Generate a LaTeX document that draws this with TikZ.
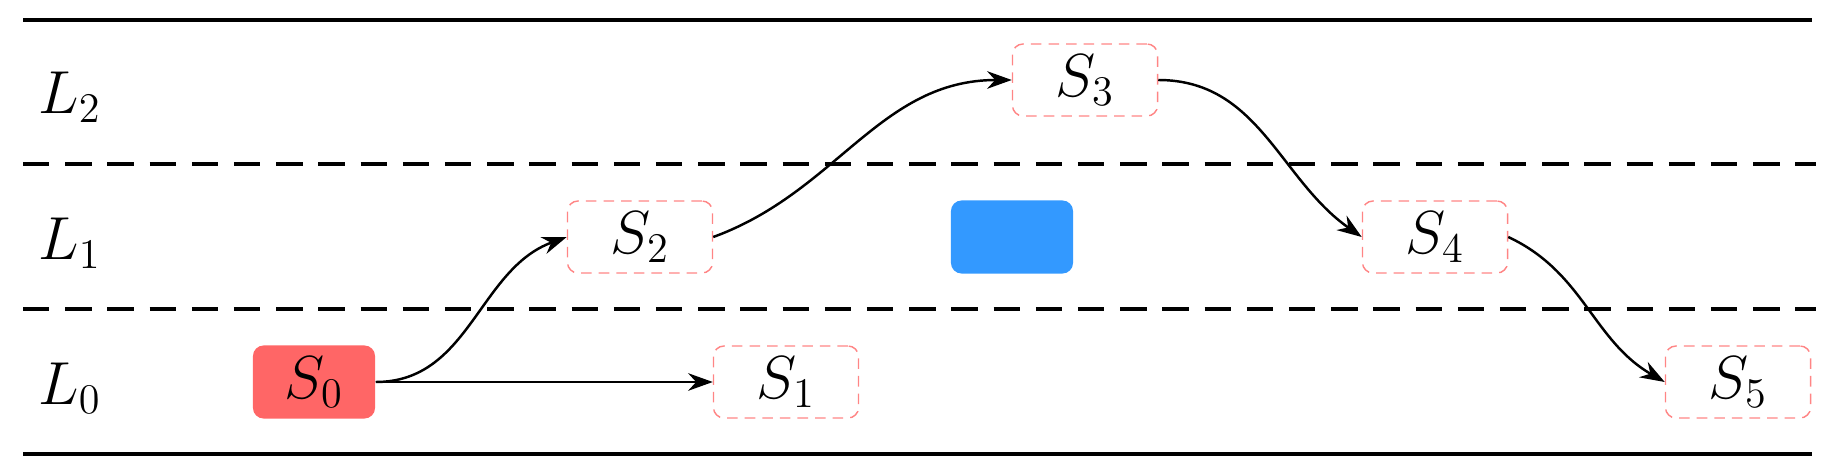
\documentclass[tikz,border=0pt]{standalone}
\usetikzlibrary{arrows.meta}
\definecolor{sred}{HTML}{FF6666}
\definecolor{sblue}{HTML}{3399FF}
\begin{document}
\begin{tikzpicture}[x=0.01cm,y=-0.01cm,
  box/.style={rectangle,rounded corners=3pt,minimum width=1.45cm,minimum height=0.72cm,inner sep=0pt,font=\fontsize{18}{20}\selectfont},
  st/.style={box,draw=sred!80,densely dashed,line width=0.4pt},
  lab/.style={font=\fontsize{18}{20}\selectfont,anchor=west},
  conn/.style={-{Stealth[length=7pt,width=5pt]},line width=0.7pt},
  sep/.style={line width=0.9pt,dash pattern=on 13\pgflinewidth... }]
\useasboundingbox (0,0) rectangle (1838,476);
\draw[line width=1.3pt] (23,20) -- (1812,20);
\draw[line width=1.3pt] (23,454) -- (1812,454);
\draw[line width=1pt,dash pattern=on 7.5pt off 4.5pt] (23,164) -- (1816,164);
\draw[line width=1pt,dash pattern=on 7.5pt off 4.5pt] (23,309) -- (1816,309);
\node[lab] (L2) at (26,97) {$L_2$};
\node[lab] (L1) at (26,243) {$L_1$};
\node[lab] (L0) at (26,388) {$L_0$};
\node[box,fill=sred,minimum width=1.22cm,minimum height=0.73cm] (S0) at (314,382) {$S_0$};
\node[st] (S1) at (786,382) {$S_1$};
\node[st] (S2) at (640,237) {$S_2$};
\node[st] (S3) at (1085,80) {$S_3$};
\node[box,fill=sblue,minimum width=1.22cm,minimum height=0.73cm] (B) at (1012,237) {};
\node[st] (S4) at (1435,237) {$S_4$};
\node[st] (S5) at (1738,382) {$S_5$};
\draw[conn] (S0.east) -- (S1.west);
\draw[conn] (S0.east) to[out=0,in=200] (S2.west);
\draw[conn] (S2.east) to[out=20,in=180] (S3.west);
\draw[conn] (S3.east) to[out=0,in=145] (S4.west);
\draw[conn] (S4.east) to[out=-25,in=150] (S5.west);
\end{tikzpicture}
\end{document}
